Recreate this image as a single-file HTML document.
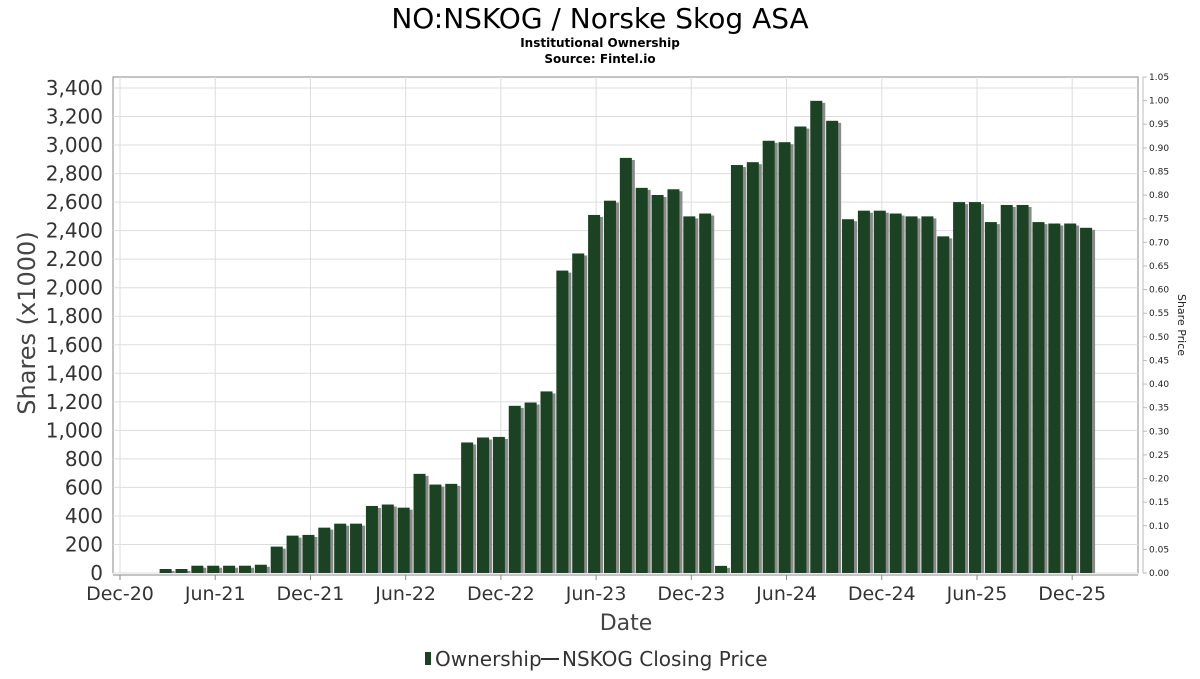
<!DOCTYPE html>
<html><head><meta charset="utf-8"><style>
body{margin:0;background:#fff;width:1200px;height:675px;overflow:hidden;font-family:"DejaVu Sans","Liberation Sans",sans-serif}
</style></head><body>
<svg id="c" width="1200" height="675" xmlns="http://www.w3.org/2000/svg">
<text x="600" y="28" text-anchor="middle" font-size="28" fill="#000">NO:NSKOG / Norske Skog ASA</text>
<text x="600" y="47" text-anchor="middle" font-size="12" font-weight="bold">Institutional Ownership</text>
<text x="600" y="63" text-anchor="middle" font-size="12" font-weight="bold">Source: Fintel.io</text>
<text transform="translate(35,323) rotate(-90)" text-anchor="middle" font-size="24" fill="#444">Shares (x1000)</text>
<text transform="translate(1178,325) rotate(90)" text-anchor="middle" font-size="11" fill="#222">Share Price</text>
<text x="626" y="630" text-anchor="middle" font-size="22" fill="#444">Date</text>
<g>
<rect x="425" y="652" width="6" height="13" fill="#1a4223"/>
<text x="435" y="666" font-size="20" fill="#333">Ownership</text>
<line x1="541" y1="659" x2="559" y2="659" stroke="#333" stroke-width="2"/>
<text x="562" y="666" font-size="20" fill="#333">NSKOG Closing Price</text>
</g>
<g id="grid"></g><g id="bars"></g><g id="axes"></g>
</svg>
<script>
const months=[3,4,5,6,7,8,9,10,11,12,13,14,15,16,17,18,19,20,21,22,23,24,25,26,27,28,29,30,31,32,33,34,35,36,37,38,39,40,41,42,43,44,45,46,47,48,49,50,51,52,53,54,55,56,57,58,59,60,61];
const shares=[28,28,51,51,51,51,58,185,262,267,318,346,346,470,480,458,695,620,625,915,950,954,1172,1195,1273,2120,2240,2510,2610,2910,2700,2650,2690,2500,2520,50,2860,2880,3030,3020,3130,3310,3170,2480,2540,2540,2520,2500,2500,2360,2600,2600,2460,2580,2580,2460,2450,2450,2420];
const yTicks=[0,200,400,600,800,1000,1200,1400,1600,1800,2000,2200,2400,2600,2800,3000,3200,3400];
const priceTicks=[0,0.05,0.10,0.15,0.20,0.25,0.30,0.35,0.40,0.45,0.50,0.55,0.60,0.65,0.70,0.75,0.80,0.85,0.90,0.95,1.00,1.05];
const xTickMonths=[0,6,12,18,24,30,36,42,48,54,60];
const xTickLabels=["Dec-20","Jun-21","Dec-21","Jun-22","Dec-22","Jun-23","Dec-23","Jun-24","Dec-24","Jun-25","Dec-25"];
const L=113,R=1138,T=77,B=573;
const y=v=>B-v*(B-88)/3400;
const yp=p=>B-p*(B-T)/1.05;
const x=m=>120+m*15.87;
const NS="http://www.w3.org/2000/svg";
function mk(par,tag,at){const e=document.createElementNS(NS,tag);for(const k in at)e.setAttribute(k,at[k]);par.appendChild(e);return e;}
const grid=document.getElementById('grid'),bars=document.getElementById('bars'),axes=document.getElementById('axes');
mk(grid,'rect',{x:L,y:T,width:R-L,height:B-T,fill:'#fff',stroke:'#888'});
yTicks.forEach(v=>{const g=mk(grid,'line',{x1:L,x2:R,y1:y(v),y2:y(v),stroke:'#ddd'});

const t=mk(axes,'text',{x:103,y:y(v)+7,'text-anchor':'end','font-size':20,fill:'#333'});t.textContent=v.toLocaleString('en-US');
});
xTickMonths.forEach((m,i)=>{const g=mk(grid,'line',{x1:x(m),x2:x(m),y1:T,y2:B,stroke:'#ddd'});

mk(axes,'line',{x1:x(m),x2:x(m),y1:B+2,y2:B+7,stroke:'#888'});
const t=mk(axes,'text',{x:x(m),y:600,'text-anchor':'middle','font-size':19,fill:'#333'});t.textContent=xTickLabels[i];
});
mk(axes,'line',{x1:L,x2:R,y1:B+2,y2:B+2,stroke:'#888'});
mk(axes,'line',{x1:1143,x2:1143,y1:T,y2:B,stroke:'#bbb'});
priceTicks.forEach(p=>{mk(axes,'line',{x1:1143,x2:1147,y1:yp(p),y2:yp(p),stroke:'#bbb'});
const t=mk(axes,'text',{x:1149,y:yp(p)+3,'font-size':9,fill:'#222'});t.textContent=p.toFixed(2);
});
months.forEach((m,i)=>{const cx=x(m)-2,w=12,top=y(shares[i]);
const s=mk(bars,'rect',{x:cx-w/2+3,y:top+2,width:w,height:B-top-2,fill:'#8a8a8a'});

const b=mk(bars,'rect',{x:cx-w/2,y:top,width:w,height:B-top,fill:'#1a4223'});
});
</script>
</body></html>
